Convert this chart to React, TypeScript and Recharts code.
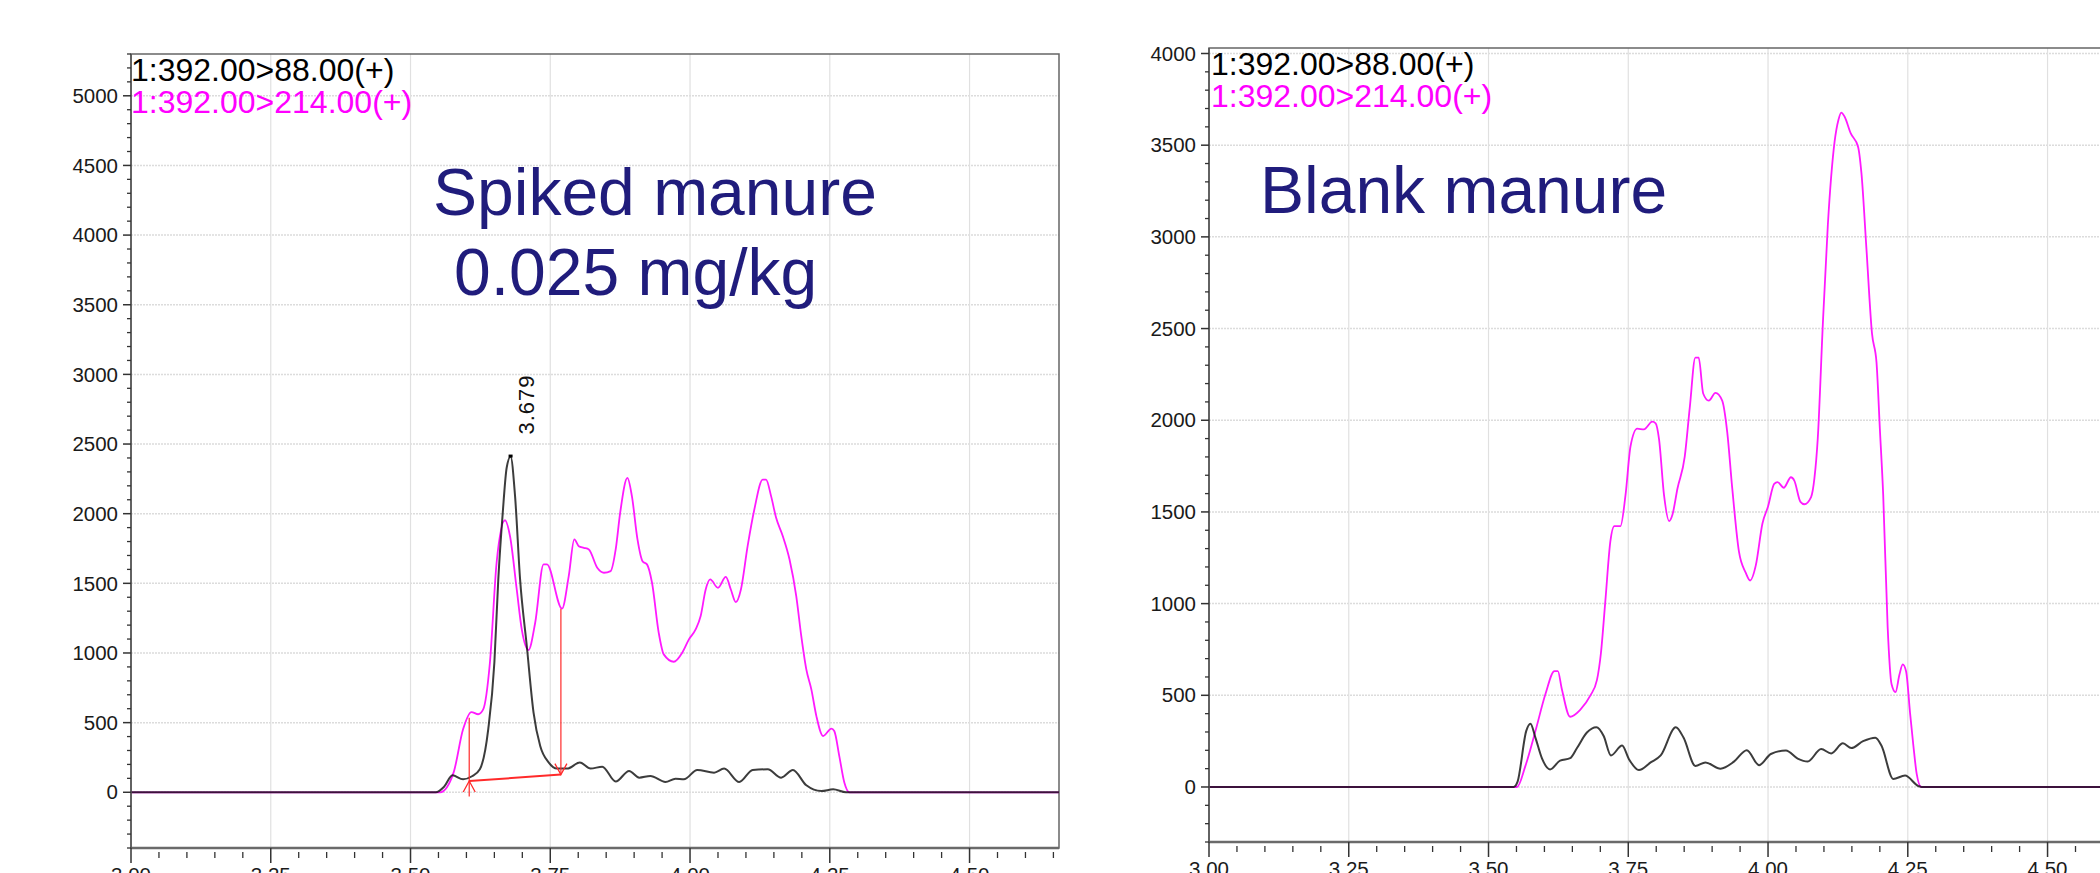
import {
  LineChart,
  Line,
  XAxis,
  YAxis,
  CartesianGrid,
  ReferenceArea,
  ReferenceLine,
  ReferenceDot,
} from 'recharts'

// Retention time (min) / intensity pairs for each MRM trace

// spiked sample, 392 > 88 (quantifier)
const spikedTime88 = [
  3.0, 3.545, 3.56, 3.575, 3.594, 3.61, 3.624, 3.639, 3.65, 3.657, 3.665, 3.672, 3.679, 3.687,
  3.696, 3.708, 3.72, 3.732, 3.747, 3.762, 3.78, 3.803, 3.822, 3.843, 3.867, 3.891, 3.909, 3.929,
  3.956, 3.974, 3.989, 4.013, 4.043, 4.061, 4.088, 4.112, 4.139, 4.163, 4.184, 4.208, 4.235,
  4.256, 4.279, 4.66,
]
const spikedInt88 = [
  0, 0, 40, 122, 93, 115, 165, 452, 932, 1528, 2008, 2330, 2410, 2126,
  1528, 1050, 574, 332, 215, 170, 170, 213, 170, 184, 77, 153, 105, 117,
  74, 98, 93, 160, 141, 170, 74, 160, 165, 105, 160, 50, 9,
  21, 0, 0,
]

// spiked sample, 392 > 214 (qualifier)
const spikedTime214 = [
  3.0, 3.553, 3.577, 3.594, 3.609, 3.621, 3.63, 3.642, 3.654, 3.669, 3.678, 3.69, 3.699, 3.711,
  3.723, 3.738, 3.744, 3.771, 3.783, 3.793, 3.801, 3.81, 3.819, 3.834, 3.846, 3.858, 3.867, 3.875,
  3.888, 3.896, 3.906, 3.915, 3.923, 3.932, 3.944, 3.953, 3.971, 3.986, 3.998, 4.01, 4.019, 4.028,
  4.036, 4.05, 4.064, 4.073, 4.082, 4.091, 4.103, 4.115, 4.13, 4.136, 4.145, 4.154, 4.166, 4.178,
  4.19, 4.199, 4.208, 4.217, 4.226, 4.238, 4.253, 4.258, 4.267, 4.276, 4.285, 4.66,
]
const spikedInt214 = [
  0, 0, 141, 452, 576, 560, 595, 930, 1648, 1953, 1838, 1456, 1169, 1021,
  1217, 1636, 1636, 1318, 1552, 1815, 1767, 1755, 1743, 1612, 1576, 1588, 1743, 2006,
  2257, 2126, 1815, 1659, 1636, 1504, 1145, 990, 937, 1002, 1098, 1169, 1265, 1456,
  1528, 1468, 1546, 1456, 1365, 1456, 1767, 2030, 2245, 2245, 2126, 1970, 1838, 1671,
  1408, 1121, 882, 739, 547, 404, 457, 440, 260, 70, 0, 0,
]

// blank sample, 392 > 88
const blankTime88 = [
  3.0, 3.545, 3.552, 3.5675, 3.575, 3.584, 3.596, 3.61, 3.628, 3.646, 3.658, 3.676, 3.693, 3.706,
  3.719, 3.739, 3.751, 3.769, 3.79, 3.808, 3.835, 3.849, 3.87, 3.888, 3.915, 3.939, 3.962, 3.984,
  4.005, 4.032, 4.053, 4.071, 4.095, 4.113, 4.134, 4.149, 4.17, 4.192, 4.203, 4.224, 4.245,
  4.269, 4.275, 4.66,
]
const blankInt88 = [
  0, 0, 29, 306, 345, 268, 153, 96, 144, 157, 211, 297, 326, 278,
  172, 226, 153, 92, 134, 172, 326, 268, 115, 134, 100, 138, 201, 119,
  180, 199, 155, 139, 207, 183, 238, 212, 250, 269, 225, 44, 62,
  5, 0, 0,
]

// blank sample, 392 > 214
const blankTime214 = [
  3.0, 3.551, 3.566, 3.584, 3.602, 3.618, 3.624, 3.631, 3.646, 3.664, 3.682, 3.694, 3.701, 3.709,
  3.718, 3.725, 3.736, 3.745, 3.754, 3.766, 3.778, 3.793, 3.799, 3.805, 3.814, 3.823, 3.829, 3.838,
  3.851, 3.86, 3.87, 3.876, 3.884, 3.894, 3.906, 3.918, 3.927, 3.936, 3.948, 3.96, 3.968, 3.978,
  3.99, 4.0, 4.011, 4.017, 4.028, 4.041, 4.047, 4.058, 4.065, 4.077, 4.083, 4.089, 4.098, 4.107,
  4.119, 4.126, 4.131, 4.137, 4.148, 4.161, 4.167, 4.176, 4.186, 4.194, 4.2, 4.206, 4.214, 4.221,
  4.228, 4.235, 4.241, 4.247, 4.254, 4.26, 4.266, 4.274, 4.66,
]
const blankInt214 = [
  0, 0, 115, 306, 508, 632, 632, 536, 383, 421, 498, 584, 728, 1015,
  1341, 1423, 1423, 1590, 1858, 1954, 1950, 1992, 1983, 1897, 1590, 1450, 1485, 1628,
  1801, 2069, 2341, 2341, 2146, 2107, 2149, 2107, 1935, 1628, 1283, 1169, 1126, 1207,
  1437, 1530, 1653, 1663, 1632, 1689, 1671, 1555, 1542, 1581, 1684, 1903, 2523, 3066,
  3518, 3639, 3678, 3655, 3564, 3492, 3350, 2936, 2472, 2317, 1955, 1593, 870, 560,
  517, 612, 669, 630, 405, 225, 70, 0, 0,
]

// integrated peak: apex, baseline start / end
const peakRt = 3.679
const peakApex = 2410
const baseStart = { t: 3.605, v: 81, top: 535 }
const baseEnd = { t: 3.769, v: 127, top: 1318 }

const xGridValues = [3.25, 3.5, 3.75, 4.0, 4.25, 4.5]
const yGridSpiked = [0, 500, 1000, 1500, 2000, 2500, 3000, 3500, 4000, 4500, 5000]
const yGridBlank = [0, 500, 1000, 1500, 2000, 2500, 3000, 3500, 4000]

const traceLabels = ['1:392.00>88.00(+)', '1:392.00>214.00(+)']

const FONT = '"Liberation Sans", Arial, sans-serif'
const X_DOMAIN: [number, number] = [3.0, 4.66]

const toPoints = (t: number[], v: number[]) => t.map((x, i) => ({ t: x, v: v[i] }))

function stepTicks(from: number, to: number, step: number) {
  const out: number[] = []
  for (let x = from; x <= to + step / 1000; x += step) out.push(Math.round(x * 1000) / 1000)
  return out
}

const xTicks = stepTicks(3.0, 4.65, 0.05)

function XTick(props: any) {
  const { x, y, payload } = props
  const v = payload.value
  const major = Math.round(v * 100) % 25 === 0
  if (!major) {
    return <line x1={x} y1={y + 4} x2={x} y2={y + 10} stroke="#333" strokeWidth={1.3} />
  }
  return (
    <g>
      <line x1={x} y1={y} x2={x} y2={y + 15} stroke="#333" strokeWidth={1.5} />
      <text x={x} y={y + 34} textAnchor="middle" fill="#1a1a1a" fontSize={20.5} fontFamily={FONT}>
        {v.toFixed(2)}
      </text>
    </g>
  )
}

function YTick(props: any) {
  const { x, y, payload } = props
  const v = payload.value
  const major = Math.round(v) % 500 === 0
  if (!major) {
    return <line x1={x - 4} y1={y} x2={x} y2={y} stroke="#333" strokeWidth={1.3} />
  }
  return (
    <g>
      <line x1={x - 8} y1={y} x2={x} y2={y} stroke="#333" strokeWidth={1.5} />
      {v >= 0 && (
        <text x={x - 13} y={y} dy="0.35em" textAnchor="end" fill="#1a1a1a" fontSize={20.5} fontFamily={FONT}>
          {v}
        </text>
      )}
    </g>
  )
}

function ArrowUp(props: any) {
  const { cx, cy } = props
  return (
    <polyline
      points={`${cx - 6},${cy + 11} ${cx},${cy} ${cx + 6},${cy + 11}`}
      fill="none"
      stroke="#ff2a2a"
      strokeWidth={1.3}
    />
  )
}

function ArrowDown(props: any) {
  const { cx, cy } = props
  return (
    <polyline
      points={`${cx - 6},${cy - 11} ${cx},${cy} ${cx + 6},${cy - 11}`}
      fill="none"
      stroke="#ff2a2a"
      strokeWidth={1.3}
    />
  )
}

function PeakLabel(props: any) {
  const { cx, cy } = props
  const tx = cx + 23
  const ty = cy - 22
  return (
    <g>
      <rect x={cx - 2} y={cy - 2} width={4} height={3} fill="#000" />
      <text
        x={tx}
        y={ty}
        transform={`rotate(-90 ${tx} ${ty})`}
        fontSize={22}
        letterSpacing={1}
        fill="#111"
        fontFamily={FONT}
      >
        {peakRt.toFixed(3)}
      </text>
    </g>
  )
}

interface ChromProps {
  trace88: { t: number; v: number }[]
  trace214: { t: number; v: number }[]
  yDomain: [number, number]
  yGrid: number[]
  top: number
  bottom: number
  children?: any
}

function Chromatogram({ trace88, trace214, yDomain, yGrid, top, bottom, children }: ChromProps) {
  const yTicks = stepTicks(yDomain[0], Math.floor(yDomain[1] / 100) * 100, 100)
  return (
    <LineChart width={1101} height={873} margin={{ top, right: 42, bottom, left: 0 }}>
      <CartesianGrid
        vertical={false}
        horizontalValues={yGrid}
        stroke="#dcdcdc"
        strokeWidth={1.5}
        strokeDasharray="2 1"
      />
      <CartesianGrid horizontal={false} verticalValues={xGridValues} stroke="#e0e0e0" strokeWidth={1.2} />
      <ReferenceArea
        x1={X_DOMAIN[0]}
        x2={X_DOMAIN[1]}
        y1={yDomain[0]}
        y2={yDomain[1]}
        fill="none"
        stroke="#666"
        strokeWidth={1.5}
      />
      <XAxis
        dataKey="t"
        type="number"
        domain={X_DOMAIN}
        allowDataOverflow
        ticks={xTicks}
        interval={0}
        tickLine={false}
        tickSize={0}
        tickMargin={0}
        tick={<XTick />}
        height={25}
        axisLine={{ stroke: '#6a6a6a', strokeWidth: 2.5 }}
      />
      <YAxis
        type="number"
        domain={yDomain}
        allowDataOverflow
        ticks={yTicks}
        interval={0}
        tickLine={false}
        tickSize={0}
        tickMargin={0}
        tick={<YTick />}
        width={131}
        axisLine={{ stroke: '#555', strokeWidth: 1.5 }}
      />
      <Line
        data={trace214}
        dataKey="v"
        type="monotone"
        dot={false}
        stroke="#ff1aff"
        strokeWidth={1.8}
        isAnimationActive={false}
      />
      <Line
        data={trace88}
        dataKey="v"
        type="monotone"
        dot={false}
        stroke="#111"
        strokeOpacity={0.82}
        strokeWidth={2}
        isAnimationActive={false}
      />
      {children}
    </LineChart>
  )
}

export default function App() {
  const red = '#ff2a2a'
  return (
    <div
      style={{
        position: 'fixed',
        left: 0,
        top: 0,
        width: 2100,
        height: 873,
        overflow: 'hidden',
        background: '#fff',
        fontFamily: FONT,
      }}
    >
      <div style={{ position: 'absolute', left: 0, top: 0 }}>
        <Chromatogram
          trace88={toPoints(spikedTime88, spikedInt88)}
          trace214={toPoints(spikedTime214, spikedInt214)}
          yDomain={[-400, 5300]}
          yGrid={yGridSpiked}
          top={54}
          bottom={0}
        >
          <ReferenceLine
            segment={[{ x: baseStart.t, y: baseStart.top }, { x: baseStart.t, y: -30 }]}
            stroke={red}
            strokeWidth={1.2}
          />
          <ReferenceLine
            segment={[{ x: baseEnd.t, y: baseEnd.top }, { x: baseEnd.t, y: baseEnd.v }]}
            stroke={red}
            strokeWidth={1.2}
          />
          <ReferenceLine
            segment={[{ x: baseStart.t, y: baseStart.v }, { x: baseEnd.t, y: baseEnd.v }]}
            stroke={red}
            strokeWidth={2}
          />
          <ReferenceDot x={baseStart.t} y={baseStart.v} shape={<ArrowUp />} />
          <ReferenceDot x={baseEnd.t} y={baseEnd.v} shape={<ArrowDown />} />
          <ReferenceDot x={peakRt} y={peakApex} shape={<PeakLabel />} />
        </Chromatogram>
      </div>
      <div style={{ position: 'absolute', left: 1078, top: 0 }}>
        <Chromatogram
          trace88={toPoints(blankTime88, blankInt88)}
          trace214={toPoints(blankTime214, blankInt214)}
          yDomain={[-300, 4030]}
          yGrid={yGridBlank}
          top={48}
          bottom={6}
        />
      </div>
      <svg
        width={2100}
        height={873}
        style={{ position: 'absolute', left: 0, top: 0, pointerEvents: 'none' }}
        fontFamily={FONT}
      >
        <text x={131} y={81} fontSize={32} fill="#000">{traceLabels[0]}</text>
        <text x={131} y={113} fontSize={32} fill="#ff00ff">{traceLabels[1]}</text>
        <text x={1211} y={75} fontSize={32} fill="#000">{traceLabels[0]}</text>
        <text x={1211} y={107} fontSize={32} fill="#ff00ff">{traceLabels[1]}</text>
        <text x={433} y={215} fontSize={66} fill="#201c7c">Spiked manure</text>
        <text x={454} y={295} fontSize={66} fill="#201c7c">0.025 mg/kg</text>
        <text x={1260} y={213} fontSize={66} fill="#201c7c">Blank manure</text>
      </svg>
    </div>
  )
}
